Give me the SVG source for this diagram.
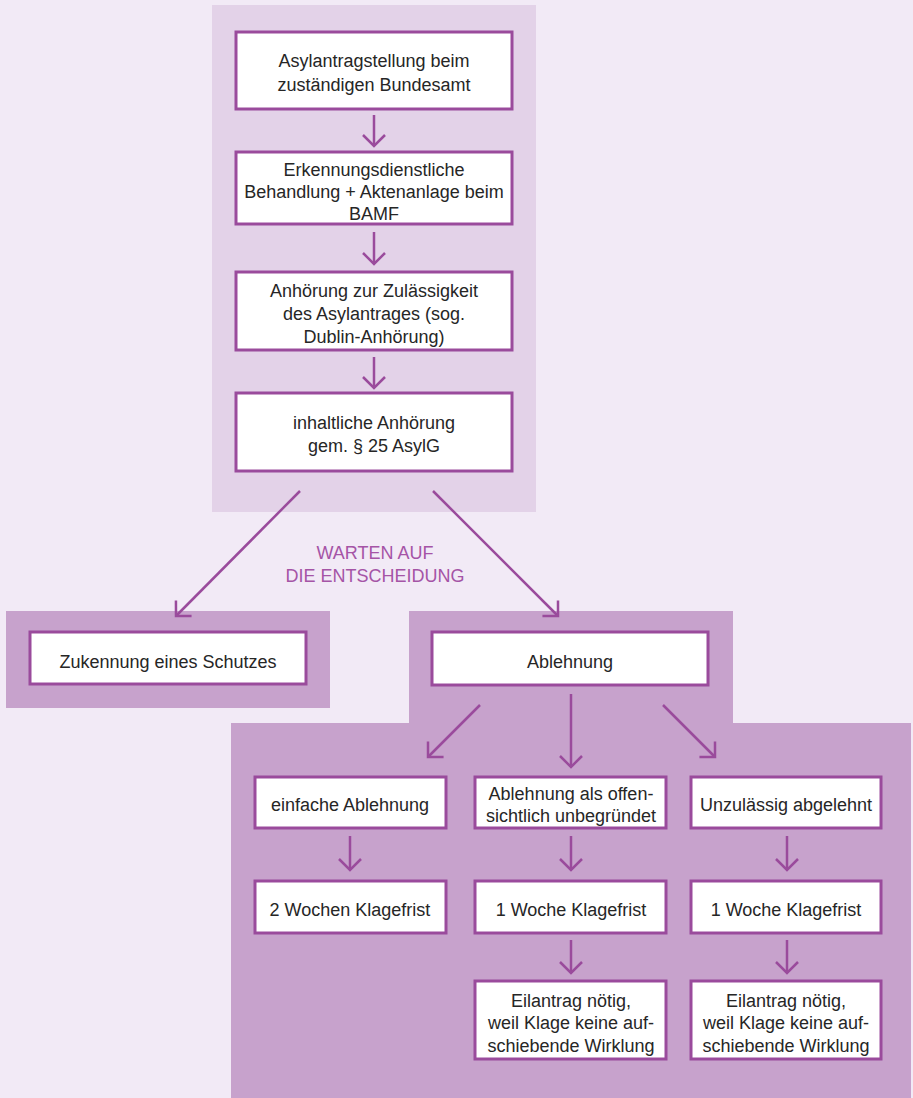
<svg xmlns="http://www.w3.org/2000/svg" width="913" height="1098" viewBox="0 0 913 1098">
<style>
.box{fill:#ffffff;stroke:#9a4b9c;stroke-width:3}
.t{font-family:"Liberation Sans",Arial,sans-serif;font-size:18px;fill:#262626;text-anchor:middle}
.lbl{font-family:"Liberation Sans",Arial,sans-serif;font-size:18px;fill:#a554a6;text-anchor:middle}
.c{stroke:#9a4b9c;stroke-width:2.5;fill:none;marker-end:url(#head)}
</style>
<defs>
<marker id="head" markerUnits="userSpaceOnUse" viewBox="-15 -15 18 30" markerWidth="18" markerHeight="30" refX="0" refY="0" orient="auto">
<path d="M-11,-11 L0,0 L-11,11" fill="none" stroke="#9a4b9c" stroke-width="2.5"/>
</marker>
</defs>
<rect x="0" y="0" width="913" height="1098" fill="#f2eaf6"/>
<rect x="212" y="5" width="324" height="507" fill="#e3d2e8"/>
<rect x="6" y="611" width="324" height="97" fill="#c7a2cc"/>
<path d="M409,611 H733 V723 H911 V1098 H231 V723 H409 Z" fill="#c7a2cc"/>
<text class="lbl" x="375" y="559">WARTEN AUF</text>
<text class="lbl" x="375" y="582">DIE ENTSCHEIDUNG</text>
<g id="connectors">
<path class="c" d="M374,115 V146"/>
<path class="c" d="M374,232 V264"/>
<path class="c" d="M374,357 V388"/>
<path class="c" d="M300,491 L176,616"/>
<path class="c" d="M433,491 L558,616"/>
<path class="c" d="M480,705 L428,757"/>
<path class="c" d="M571,694 V767"/>
<path class="c" d="M663,705 L715,757"/>
<path class="c" d="M350,836 V870"/>
<path class="c" d="M571,836 V870"/>
<path class="c" d="M787,836 V870"/>
<path class="c" d="M571,940 V973"/>
<path class="c" d="M787,940 V973"/>
</g>
<g id="n1"><rect class="box" x="236" y="32" width="276" height="77"/>
<text class="t" x="374" y="67">Asylantragstellung beim</text><text class="t" x="374" y="91">zuständigen Bundesamt</text></g>
<g id="n2"><rect class="box" x="236" y="152" width="276" height="72"/>
<text class="t" x="374" y="176">Erkennungsdienstliche</text><text class="t" x="374" y="198">Behandlung + Aktenanlage beim</text><text class="t" x="374" y="220">BAMF</text></g>
<g id="n3"><rect class="box" x="236" y="272" width="276" height="78"/>
<text class="t" x="374" y="297">Anhörung zur Zulässigkeit</text><text class="t" x="374" y="320">des Asylantrages (sog.</text><text class="t" x="374" y="343">Dublin-Anhörung)</text></g>
<g id="n4"><rect class="box" x="236" y="393" width="276" height="78"/>
<text class="t" x="374" y="429">inhaltliche Anhörung</text><text class="t" x="374" y="452">gem. § 25 AsylG</text></g>
<g id="n5"><rect class="box" x="30" y="632" width="276" height="52"/>
<text class="t" x="168" y="668">Zukennung eines Schutzes</text></g>
<g id="n6"><rect class="box" x="432" y="632" width="276" height="53"/>
<text class="t" x="570" y="668">Ablehnung</text></g>
<g id="n7"><rect class="box" x="255" y="777" width="191" height="51"/>
<text class="t" x="350" y="811">einfache Ablehnung</text></g>
<g id="n8"><rect class="box" x="475" y="777" width="191" height="51"/>
<text class="t" x="571" y="800">Ablehnung als offen-</text><text class="t" x="571" y="822">sichtlich unbegründet</text></g>
<g id="n9"><rect class="box" x="691" y="777" width="190" height="51"/>
<text class="t" x="786" y="811">Unzulässig abgelehnt</text></g>
<g id="n10"><rect class="box" x="255" y="881" width="191" height="52"/>
<text class="t" x="350" y="916">2 Wochen Klagefrist</text></g>
<g id="n11"><rect class="box" x="475" y="881" width="191" height="52"/>
<text class="t" x="571" y="916">1 Woche Klagefrist</text></g>
<g id="n12"><rect class="box" x="691" y="881" width="190" height="52"/>
<text class="t" x="786" y="916">1 Woche Klagefrist</text></g>
<g id="n13"><rect class="box" x="475" y="981" width="191" height="78"/>
<text class="t" x="571" y="1007">Eilantrag nötig,</text><text class="t" x="571" y="1029">weil Klage keine auf-</text><text class="t" x="571" y="1052">schiebende Wirklung</text></g>
<g id="n14"><rect class="box" x="691" y="981" width="190" height="78"/>
<text class="t" x="786" y="1007">Eilantrag nötig,</text><text class="t" x="786" y="1029">weil Klage keine auf-</text><text class="t" x="786" y="1052">schiebende Wirklung</text></g>
</svg>
